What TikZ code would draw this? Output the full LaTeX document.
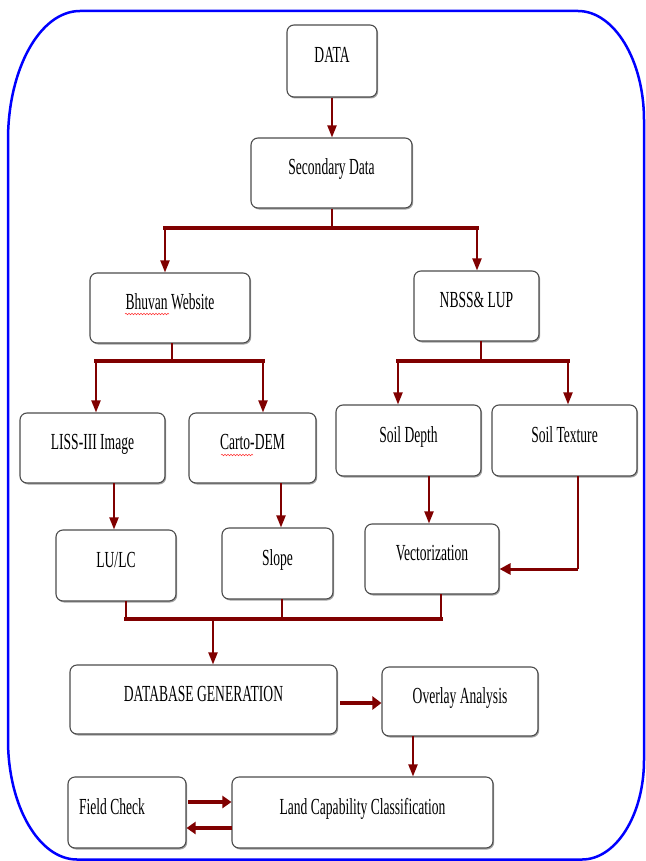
\documentclass[tikz,border=0pt]{standalone}
\usepackage{fontspec}
\setmainfont{Liberation Serif}[FakeStretch=0.59]
\usetikzlibrary{arrows.meta,shadows,decorations.pathmorphing}
\definecolor{arrred}{RGB}{128,0,0}
\definecolor{frameblue}{RGB}{0,0,255}
\begin{document}
\begin{tikzpicture}[x=1pt,y=-1pt,
  box/.style={draw=black!70,line width=1.1pt,rounded corners=7pt,fill=white,
    inner sep=0pt,text height=15pt,text depth=12pt,
    font=\fontsize{23}{26}\selectfont,
    drop shadow={shadow xshift=1.2pt,shadow yshift=-1.5pt,fill=black!45,opacity=0.8}},
  stem/.style={draw=arrred,line width=2pt},
  bar/.style={draw=arrred,line width=3.5pt,line cap=rect},
  arr/.style={draw=arrred,line width=2pt,-{Triangle[length=12pt,width=9pt]}},
  fatarr/.style={draw=arrred,line width=4.5pt,-{Triangle[length=9pt,width=13pt]}},
  midarr/.style={draw=arrred,line width=3.5pt,-{Triangle[length=9pt,width=12pt]}},
  squig/.style={draw=red!80,line width=0.5pt,decorate,decoration={snake,amplitude=0.8pt,segment length=3pt}}
]
\useasboundingbox (0,0) rectangle (645,861);
% frame
\draw[frameblue,line width=2.5pt]
  (80,11) -- (578,11) .. controls (614,11) and (644,60) .. (644,120)
  -- (644,760) .. controls (644,815) and (616,859.5) .. (582,859.5)
  -- (77,859.5) .. controls (39,859.5) and (8,806) .. (8,740)
  -- (8,140) .. controls (8,69) and (40,11) .. (80,11) -- cycle;

% boxes
\node[box,minimum width=90pt,minimum height=72pt] (data) at (332,61) {DATA};
\node[box,minimum width=161pt,minimum height=70pt] (sec) at (331.5,173) {Secondary Data};
\node[box,minimum width=160pt,minimum height=70pt] (bhu) at (170,308) {Bhuvan Website};
\node[box,minimum width=125pt,minimum height=70pt] (nbss) at (476.5,306) {NBSS\& LUP};
\node[box,minimum width=145pt,minimum height=70pt] (liss) at (92.5,448) {LISS-III Image};
\node[box,minimum width=127pt,minimum height=70pt] (carto) at (252.5,448) {Carto-DEM};
\node[box,minimum width=145pt,minimum height=71pt] (sdepth) at (408.5,440.5) {Soil Depth};
\node[box,minimum width=145pt,minimum height=71pt] (stext) at (564.5,440.5) {Soil Texture};
\node[box,minimum width=120pt,minimum height=71pt] (lulc) at (116,565.5) {LU/LC};
\node[box,minimum width=111pt,minimum height=71pt] (slope) at (277.5,563.5) {Slope};
\node[box,minimum width=134pt,minimum height=70pt] (vect) at (432,559) {Vectorization};
\node[box,minimum width=267pt,minimum height=69pt] (dbgen) at (203.5,699.5) {DATABASE GENERATION};
\node[box,minimum width=156pt,minimum height=69pt] (overlay) at (460,701.5) {Overlay Analysis};
\node[box,minimum width=118pt,minimum height=71pt] (field) at (127,812.5) {Field Check\hspace*{30pt}};
\node[box,minimum width=261pt,minimum height=71pt] (lcc) at (362.5,812.5) {Land Capability Classification};

% spell-check squiggles
\coordinate (sq1a) at (125,314); \coordinate (sq1b) at (169,314);
\coordinate (sq2a) at (221,455); \coordinate (sq2b) at (253,455);
\draw[squig] (sq1a) -- (sq1b);
\draw[squig] (sq2a) -- (sq2b);

% DATA -> Secondary
\draw[arr] (data.south) -- (data.south |- sec.north);

% Secondary bus
\coordinate (j1) at (331.5,228);
\coordinate (j1l) at (165,228);
\coordinate (j1r) at (477,228);
\draw[stem] (sec.south) -- (j1);
\draw[bar] (j1l) -- (j1r);
\draw[arr] (j1l) -- (j1l |- bhu.north);
\draw[arr] (j1r) -- (j1r |- nbss.north);

% Bhuvan bus
\coordinate (b0) at (172,343);
\coordinate (b1) at (172,361);
\coordinate (b1l) at (96,361);
\coordinate (b1r) at (263,361);
\draw[stem] (b0) -- (b1);
\draw[bar] (b1l) -- (b1r);
\draw[arr] (b1l) -- (b1l |- liss.north);
\draw[arr] (b1r) -- (b1r |- carto.north);

% NBSS bus
\coordinate (n0) at (481,341);
\coordinate (n1) at (481,361);
\coordinate (n1l) at (398,361);
\coordinate (n1r) at (568,361);
\draw[stem] (n0) -- (n1);
\draw[bar] (n1l) -- (n1r);
\draw[arr] (n1l) -- (n1l |- sdepth.north);
\draw[arr] (n1r) -- (n1r |- stext.north);

% second level
\coordinate (l0) at (114,483);
\draw[arr] (l0) -- (l0 |- lulc.north);
\coordinate (c0) at (281,483);
\draw[arr] (c0) -- (c0 |- slope.north);
\coordinate (d0) at (429,476);
\draw[arr] (d0) -- (d0 |- vect.north);
\coordinate (t0) at (578,476);
\coordinate (t1) at (578,569);
\draw[stem] (t0) -- (t1);
\draw[draw=arrred,line width=3pt,-{Triangle[length=11pt,width=11pt]}] (t1) -- (t1 -| vect.east);

% bottom bus
\coordinate (u1) at (126,601);
\coordinate (u1b) at (126,619);
\coordinate (u2) at (282,599);
\coordinate (u2b) at (282,619);
\coordinate (u3) at (441,594);
\coordinate (u3b) at (441,619);
\coordinate (u0) at (213,619);
\draw[stem] (u1) -- (u1b);
\draw[stem] (u2) -- (u2b);
\draw[stem] (u3) -- (u3b);
\draw[bar] (u1b) -- (u3b);
\draw[arr] (u0) -- (u0 |- dbgen.north);

% lower flow
\coordinate (g0) at (340,703);
\draw[fatarr] (g0) -- (g0 -| overlay.west);
\coordinate (o0) at (413,736);
\draw[arr] (o0) -- (o0 |- lcc.north);
\coordinate (f1) at (188,802);
\draw[midarr] (f1) -- (f1 -| lcc.west);
\coordinate (f2) at (232,828);
\draw[midarr] (f2) -- (f2 -| field.east);
\end{tikzpicture}
\end{document}
